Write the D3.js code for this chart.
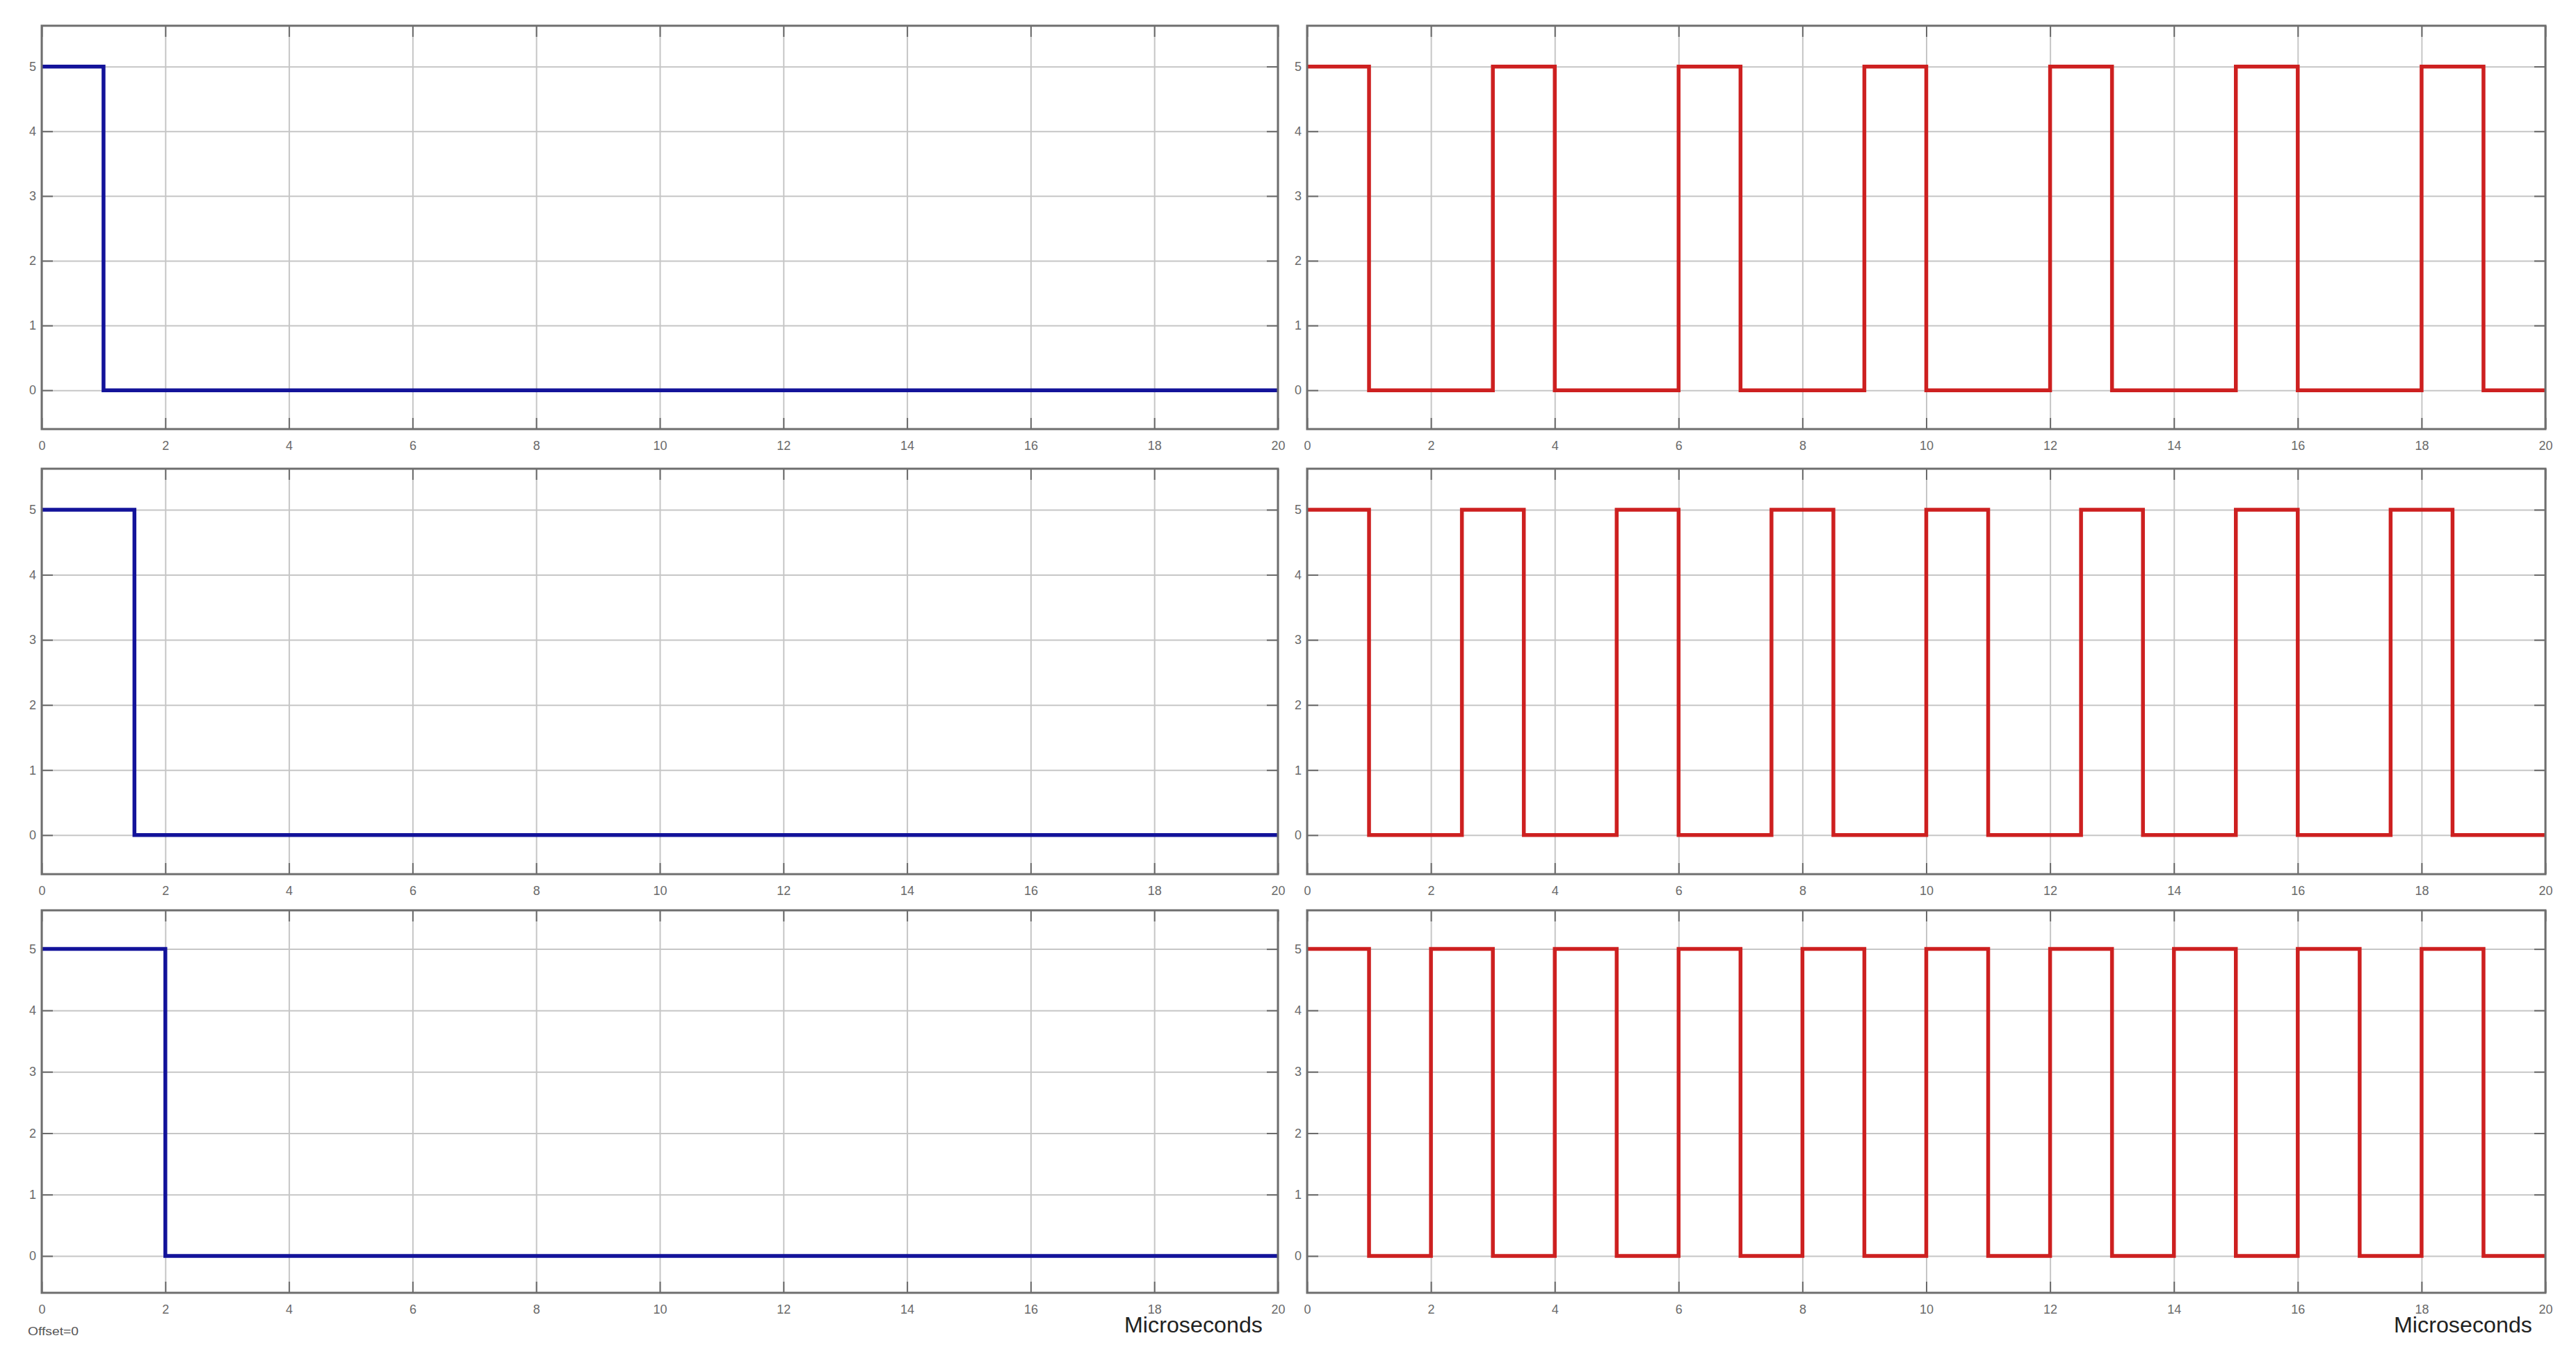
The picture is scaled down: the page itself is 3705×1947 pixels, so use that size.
<!DOCTYPE html>
<html>
<head>
<meta charset="utf-8">
<script src="https://cdn.jsdelivr.net/npm/d3@7"></script>
<style>
  html, body { margin: 0; padding: 0; background: #fff; }
  svg { display: block; }
  text { font-family: Arial, "Liberation Sans", sans-serif; }
</style>
</head>
<body>
<svg id="chart" width="3705" height="1947"></svg>
<script>
// ---- data ----
const xTicks = [0, 2, 4, 6, 8, 10, 12, 14, 16, 18, 20];
const yTicks = [0, 1, 2, 3, 4, 5];
const xLabel = "Microseconds";
const offsetNote = "Offset=0";

// Left column (blue): transition times and levels (step-after)
const blueTimes1 = [0, 1, 20];
const blueLevels1 = [5, 0, 0];
const blueTimes2 = [0, 1.5, 20];
const blueLevels2 = [5, 0, 0];
const blueTimes3 = [0, 2, 20];
const blueLevels3 = [5, 0, 0];

// Right column (red)
const redTimes1 = [0, 1, 3, 4, 6, 7, 9, 10, 12, 13, 15, 16, 18, 19, 20];
const redLevels1 = [5, 0, 5, 0, 5, 0, 5, 0, 5, 0, 5, 0, 5, 0, 0];
const redTimes2 = [0, 1, 2.5, 3.5, 5, 6, 7.5, 8.5, 10, 11, 12.5, 13.5, 15, 16, 17.5, 18.5, 20];
const redLevels2 = [5, 0, 5, 0, 5, 0, 5, 0, 5, 0, 5, 0, 5, 0, 5, 0, 0];
const redTimes3 = [0, 1, 2, 3, 4, 5, 6, 7, 8, 9, 10, 11, 12, 13, 14, 15, 16, 17, 18, 19, 20];
const redLevels3 = [5, 0, 5, 0, 5, 0, 5, 0, 5, 0, 5, 0, 5, 0, 5, 0, 5, 0, 5, 0, 0];

// ---- layout ----
const xDomain = [0, 20];
const yDomain = [-0.6, 5.63];
const cols = [{x0: 60, x1: 1838}, {x0: 1880, x1: 3661}];
const rows = [{y0: 37, y1: 617}, {y0: 674, y1: 1257}, {y0: 1309, y1: 1859}];
const blueColor = "#13139a";
const redColor = "#cd2020";

const panels = [
  {c: 0, r: 0, t: blueTimes1, v: blueLevels1, color: blueColor},
  {c: 1, r: 0, t: redTimes1, v: redLevels1, color: redColor},
  {c: 0, r: 1, t: blueTimes2, v: blueLevels2, color: blueColor},
  {c: 1, r: 1, t: redTimes2, v: redLevels2, color: redColor},
  {c: 0, r: 2, t: blueTimes3, v: blueLevels3, color: blueColor},
  {c: 1, r: 2, t: redTimes3, v: redLevels3, color: redColor},
];

const svg = d3.select("#chart");
svg.append("rect").attr("width", 3705).attr("height", 1947).attr("fill", "#fff");

const tickLen = 16;
const fmt = d3.format("d");

panels.forEach(p => {
  const col = cols[p.c], row = rows[p.r];
  const w = col.x1 - col.x0, h = row.y1 - row.y0;
  const x = d3.scaleLinear().domain(xDomain).range([0, w]);
  const y = d3.scaleLinear().domain(yDomain).range([h, 0]);
  const g = svg.append("g").attr("transform", `translate(${col.x0},${row.y0})`);

  // grid
  const gx = g.append("g").attr("transform", `translate(0,${h})`)
    .call(d3.axisBottom(x).tickValues(xTicks).tickSize(-h).tickFormat(""));
  const gy = g.append("g")
    .call(d3.axisLeft(y).tickValues(yTicks).tickSize(-w).tickFormat(""));
  [gx, gy].forEach(a => {
    a.select(".domain").remove();
    a.selectAll("line").attr("stroke", "#c6c6c6").attr("stroke-width", 2);
  });

  // inward ticks on all four sides
  const axes = [
    {ax: d3.axisBottom(x).tickValues(xTicks).tickFormat(fmt), tr: `translate(0,${h})`, lab: true},
    {ax: d3.axisTop(x).tickValues(xTicks), tr: `translate(0,0)`, lab: false},
    {ax: d3.axisLeft(y).tickValues(yTicks).tickFormat(fmt), tr: `translate(0,0)`, lab: true},
    {ax: d3.axisRight(y).tickValues(yTicks), tr: `translate(${w},0)`, lab: false},
  ];
  axes.forEach((a, i) => {
    const ax = a.ax.tickSize(-tickLen);
    if (i === 0) ax.tickPadding(17);
    if (i === 2) ax.tickPadding(8);
    if (!a.lab) ax.tickFormat("");
    const s = g.append("g").attr("transform", a.tr).call(ax);
    s.select(".domain").remove();
    s.selectAll("line").attr("stroke", "#6a6a6a").attr("stroke-width", 2);
    s.selectAll("text").attr("fill", "#6a6a6a").attr("font-size", 18)
      .attr("font-family", "Arial, 'Liberation Sans', sans-serif");
  });

  // signal
  const data = p.t.map((t, i) => [t, p.v[i]]);
  const line = d3.line().x(d => x(d[0])).y(d => y(d[1])).curve(d3.curveStepAfter);
  g.append("path").datum(data).attr("d", line)
    .attr("fill", "none").attr("stroke", p.color).attr("stroke-width", 5.5)
    .attr("stroke-linejoin", "miter");

  // box
  g.append("rect").attr("x", 0).attr("y", 0).attr("width", w).attr("height", h)
    .attr("fill", "none").attr("stroke", "#6e6e6e").attr("stroke-width", 3);
});

// axis labels
svg.append("text").attr("x", 1617).attr("y", 1916).attr("font-size", 31)
  .attr("fill", "#222").attr("textLength", 199).attr("lengthAdjust", "spacingAndGlyphs")
  .text(xLabel);
svg.append("text").attr("x", 3443).attr("y", 1916).attr("font-size", 31)
  .attr("fill", "#222").attr("textLength", 199).attr("lengthAdjust", "spacingAndGlyphs")
  .text(xLabel);
svg.append("text").attr("x", 40).attr("y", 1920).attr("font-size", 17)
  .attr("fill", "#555").attr("textLength", 73).attr("lengthAdjust", "spacingAndGlyphs")
  .text(offsetNote);
</script>
</body>
</html>
